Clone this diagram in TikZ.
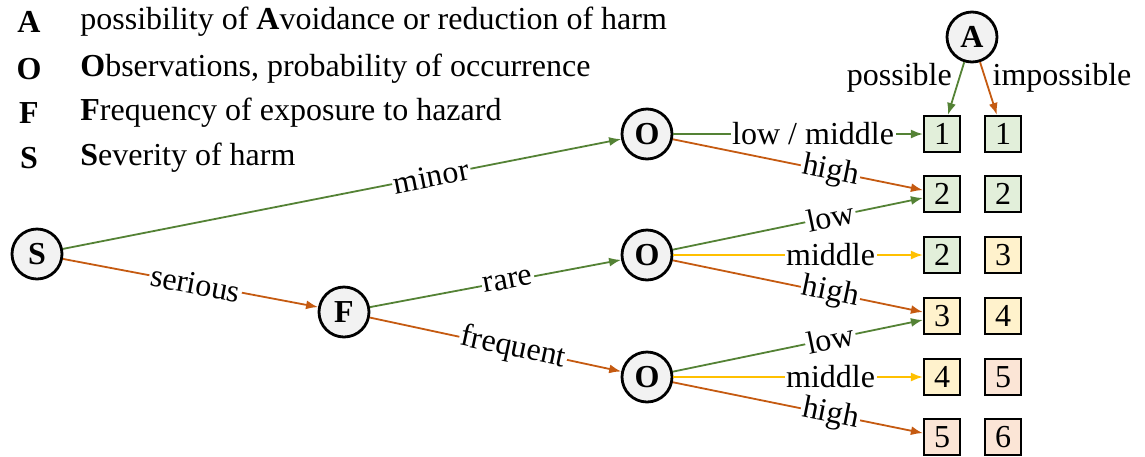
\documentclass[tikz,border=0pt]{standalone}
\usepackage{fontspec}
\setmainfont{Liberation Serif}
\usetikzlibrary{arrows.meta, positioning}

\definecolor{cgreen}{HTML}{548235}
\definecolor{corange}{HTML}{C55A11}
\definecolor{cyellow}{HTML}{FFC000}
\definecolor{fgreen}{HTML}{E2EFDA}
\definecolor{fyellow}{HTML}{FFF2CC}
\definecolor{fred}{HTML}{FBE5D6}
\definecolor{fcirc}{HTML}{F2F2F2}

\begin{document}
\begin{tikzpicture}[
  x=0.5pt, y=-0.5pt,
  font=\fontsize{16}{19}\selectfont,
  state/.style={circle, draw, line width=1.4pt, fill=fcirc, minimum size=25pt, inner sep=0pt, font=\fontsize{16}{19}\selectfont\bfseries},
  risk/.style={rectangle, draw, line width=1.1pt, minimum size=18pt, inner sep=0pt},
  arr/.style={-{Latex[length=6pt, width=4.5pt]}, line width=0.9pt},
  lbl/.style={sloped, fill=white, inner sep=0.8pt, text=black}
]
  \useasboundingbox (0,0) rectangle (1145,456);

  % Legend
  \node[font=\fontsize{16}{19}\selectfont\bfseries] (kA) at (29,22) {A};
  \node[font=\fontsize{16}{19}\selectfont\bfseries] (kO) at (29,69) {O};
  \node[font=\fontsize{16}{19}\selectfont\bfseries] (kF) at (29,113) {F};
  \node[font=\fontsize{16}{19}\selectfont\bfseries] (kS) at (29,158) {S};
  \node[anchor=west, inner sep=0pt] (tA) at (80,22) {possibility of \textbf{A}voidance or reduction of harm};
  \node[anchor=west, inner sep=0pt] (tO) at (80,69) {\textbf{O}bservations, probability of occurrence};
  \node[anchor=west, inner sep=0pt] (tF) at (80,113) {\textbf{F}requency of exposure to hazard};
  \node[anchor=west, inner sep=0pt] (tS) at (80,158) {\textbf{S}everity of harm};

  % Decision nodes
  \node[state] (sev) at (37,254) {S};
  \node[state] (freq) at (344,312) {F};
  \node[state] (obs1) at (647,134) {O};
  \node[state] (obs2) at (647,255) {O};
  \node[state] (obs3) at (647,377) {O};
  \node[state] (avoid) at (972,37) {A};

  % Risk classes: possible / impossible
  \node[risk, fill=fgreen] (r1a) at (942,134) {1};
  \node[risk, fill=fgreen] (r1b) at (1003,134) {1};
  \node[risk, fill=fgreen] (r2a) at (942,194) {2};
  \node[risk, fill=fgreen] (r2b) at (1003,194) {2};
  \node[risk, fill=fgreen] (r3a) at (942,255) {2};
  \node[risk, fill=fyellow] (r3b) at (1003,255) {3};
  \node[risk, fill=fyellow] (r4a) at (942,316) {3};
  \node[risk, fill=fyellow] (r4b) at (1003,316) {4};
  \node[risk, fill=fyellow] (r5a) at (942,377) {4};
  \node[risk, fill=fred] (r5b) at (1003,377) {5};
  \node[risk, fill=fred] (r6a) at (942,437) {5};
  \node[risk, fill=fred] (r6b) at (1003,437) {6};

  % Severity and frequency
  \draw[arr, cgreen] (sev) -- node[lbl, pos=0.66] {minor} (obs1);
  \draw[arr, corange] (sev) -- node[lbl, pos=0.52] {serious} (freq);
  \draw[arr, cgreen] (freq) -- node[lbl, pos=0.55] {rare} (obs2);
  \draw[arr, corange] (freq) -- node[lbl, pos=0.57] {frequent} (obs3);

  % Observations
  \draw[arr, cgreen] (obs1) -- node[lbl, pos=0.56] {low / middle} (r1a);
  \draw[arr, corange] (obs1) -- node[lbl, pos=0.63] {high} (r2a);
  \draw[arr, cgreen] (obs2) -- node[lbl, pos=0.63] {low} (r2a);
  \draw[arr, cyellow] (obs2) -- node[lbl, pos=0.63] {middle} (r3a);
  \draw[arr, corange] (obs2) -- node[lbl, pos=0.63] {high} (r4a);
  \draw[arr, cgreen] (obs3) -- node[lbl, pos=0.63] {low} (r4a);
  \draw[arr, cyellow] (obs3) -- node[lbl, pos=0.63] {middle} (r5a);
  \draw[arr, corange] (obs3) -- node[lbl, pos=0.63] {high} (r6a);

  % Avoidance
  \draw[arr, cgreen] (avoid) -- node[left, pos=0.3, text=black] {possible} (r1a);
  \draw[arr, corange] (avoid) -- node[right, pos=0.3, text=black] {impossible} (r1b);
\end{tikzpicture}
\end{document}
